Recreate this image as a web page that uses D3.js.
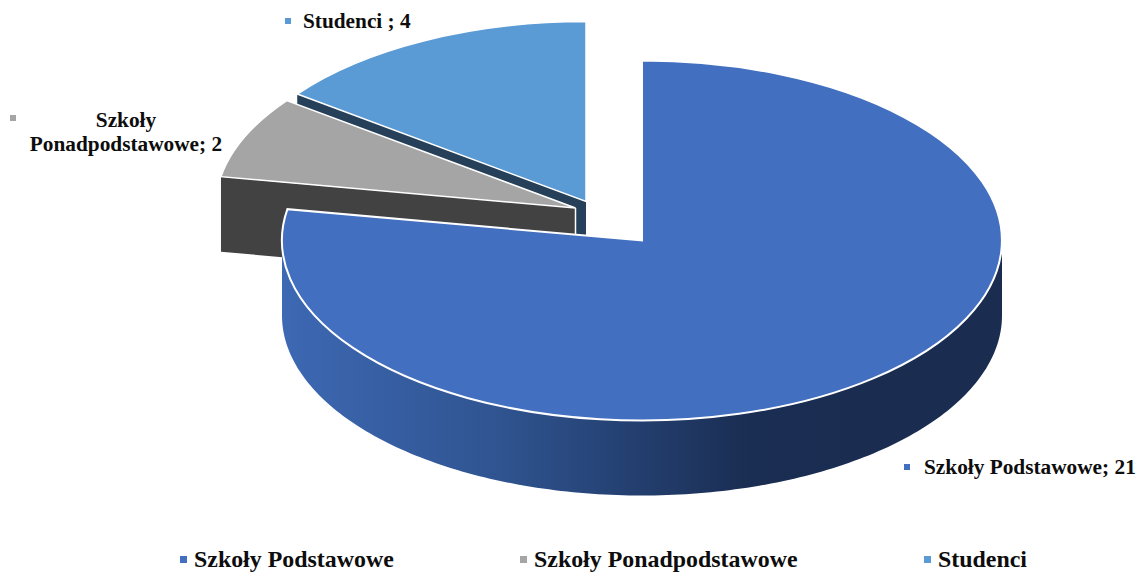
<!DOCTYPE html>
<html><head><meta charset="utf-8">
<script src="https://cdn.jsdelivr.net/npm/d3@7"></script>
<style>html,body{margin:0;background:#fff}svg{display:block}text{font-family:"Liberation Serif",serif;font-weight:bold;fill:#0d0d0d}</style>
</head><body><svg id="c" width="1143" height="577"></svg>
<script>
(function(){
const categories = ["Szkoły Podstawowe","Szkoły Ponadpodstawowe","Studenci"];
const values = [21,2,4];
const colors = ["#426fbf","#a5a5a5","#5b9bd5"];
const wallColors = [null,"#424242","#264059"];
const apexes = [[642,240.5],[575.5,208],[586,201.5]];
const separators = ["; ","; "," ; "];

const rx=360,ry=180,depth=75;
const svg=d3.select("#c");
const defs=svg.append("defs");
const grad=defs.append("linearGradient").attr("id","wall").attr("gradientUnits","userSpaceOnUse")
  .attr("x1",282).attr("x2",1002).attr("y1",0).attr("y2",0);
[[0,"#3d68b3"],[0.3,"#2f5490"],[0.5,"#233e6e"],[0.65,"#1a2d52"],[1,"#1a2d50"]].forEach(s=>grad.append("stop").attr("offset",s[0]).attr("stop-color",s[1]));

const pie=d3.pie().sort(null).value(d=>d)(values);
const pt=(i,a,dy=0)=>[apexes[i][0]+rx*Math.sin(a),apexes[i][1]-ry*Math.cos(a)+dy];
const line=d3.line();
const arc=d3.arc().innerRadius(0).outerRadius(1);

[2,1].forEach(i=>{
  const a=pie[i].startAngle, p=pt(i,a), c=apexes[i];
  svg.append("path").attr("d",line([p,c,[c[0],c[1]+depth],[p[0],p[1]+depth]])+"Z").attr("fill",wallColors[i]);
  svg.append("line").attr("x1",c[0]).attr("y1",c[1]).attr("x2",c[0]).attr("y2",c[1]+depth)
    .attr("stroke","#fff").attr("stroke-width",i==1?1.5:0);
});
function face(i){
  svg.append("path").attr("d",arc({startAngle:pie[i].startAngle,endAngle:pie[i].endAngle}))
    .attr("transform",`translate(${apexes[i][0]},${apexes[i][1]}) scale(${rx},${ry})`)
    .attr("fill",colors[i]).attr("stroke","#fff").attr("stroke-width",i==0?2:1.5)
    .attr("vector-effect","non-scaling-stroke");
}
face(2);face(1);
const outer=d3.range(Math.PI/2,1.5*Math.PI+0.001,Math.PI/180).map(a=>pt(0,a));
const lower=outer.map(p=>[p[0],p[1]+depth]).reverse();
svg.append("path").attr("d",line(outer.concat(lower))+"Z").attr("fill","url(#wall)");
face(0);

const labelFont=21.3;
function marker(x,y,c,s){svg.append("rect").attr("x",x).attr("y",y).attr("width",s).attr("height",s).attr("fill",c);}
const lab=i=>categories[i]+separators[i]+values[i];
svg.append("text").attr("x",924).attr("y",474).attr("font-size",labelFont).text(lab(0));
marker(904,464,colors[0],6);
svg.append("text").attr("x",303).attr("y",28).attr("font-size",labelFont).text(lab(2));
marker(285,18,colors[2],6);
const w=categories[1].split(" ");
svg.append("text").attr("x",126).attr("y",127).attr("text-anchor","middle").attr("font-size",labelFont).text(w[0]);
svg.append("text").attr("x",126).attr("y",151).attr("text-anchor","middle").attr("font-size",labelFont).text(w[1]+separators[1]+values[1]);
marker(10,115,colors[1],6);

const legendX=d3.scaleOrdinal().domain(categories).range([194,534,938]);
categories.forEach((c,i)=>{
  svg.append("text").attr("x",legendX(c)).attr("y",567).attr("font-size",23.9).text(c);
  marker(legendX(c)-14,556,colors[i],7);
});
})();
</script></body></html>
